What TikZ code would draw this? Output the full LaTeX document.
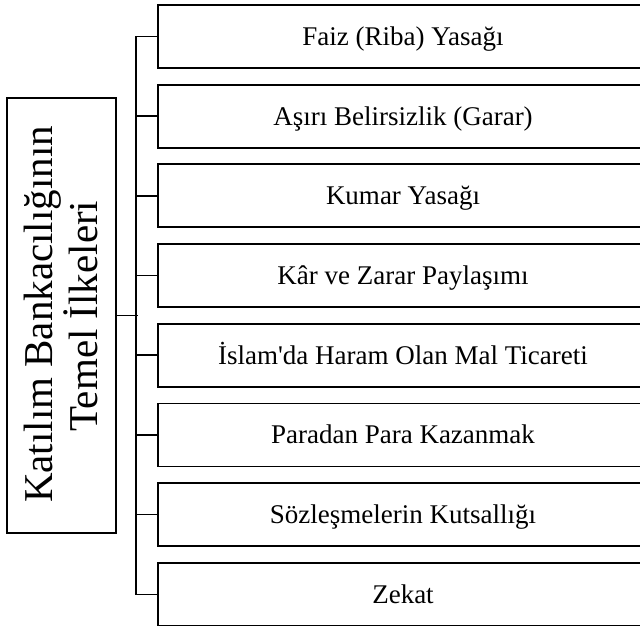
\documentclass[tikz,border=0pt]{standalone}
\usepackage{fontspec}
\setmainfont{Liberation Serif}[Ligatures=TeXOff]
\begin{document}
\begin{tikzpicture}[x=1pt,y=1pt,
  itembox/.style={draw=black, line width=1.8pt, minimum width=490pt, minimum height=63pt,
    inner sep=0pt, text height=17.9pt, text depth=0pt,
    font=\fontsize{27}{30}\selectfont},
  rootbox/.style={draw=black, line width=1.8pt, minimum width=109pt, minimum height=435pt, inner sep=0pt},
  roottext/.style={rotate=90, anchor=base, inner sep=0pt, font=\fontsize{41}{45}\selectfont},
  conn/.style={draw=black, line width=1.6pt}]
\useasboundingbox (0,0) rectangle (640,626);
\clip (0,0) rectangle (640,626);
\fill[white] (0,0) rectangle (640,626);

\node[rootbox] (root) at (61.5,310.5) {};
\node[roottext] (rootA) at (52,311.5) {Katılım Bankacılığının};
\node[roottext] (rootB) at (97,310) {Temel İlkeleri};

\node[itembox] (b1) at (403,589.5) {Faiz (Riba) Yasağı};
\node[itembox] (b2) at (403,509.8) {Aşırı Belirsizlik (Garar)};
\node[itembox] (b3) at (403,430.1) {Kumar Yasağı};
\node[itembox] (b4) at (403,350.4) {Kâr ve Zarar Paylaşımı};
\node[itembox] (b5) at (403,270.7) {İslam'da Haram Olan Mal Ticareti};
\node[itembox] (b6) at (403,191) {Paradan Para Kazanmak};
\node[itembox] (b7) at (403,111.3) {Sözleşmelerin Kutsallığı};
\node[itembox] (b8) at (403,31.6) {Zekat};

\draw[conn] (b1.west) -- ++(-21,0) |- (b8.west);
\foreach \n in {b2,b3,b4,b5,b6,b7} {\draw[conn] (\n.west) -- ++(-21,0);}
\draw[conn] (root.east) -- ++(21,0);
\end{tikzpicture}
\end{document}
